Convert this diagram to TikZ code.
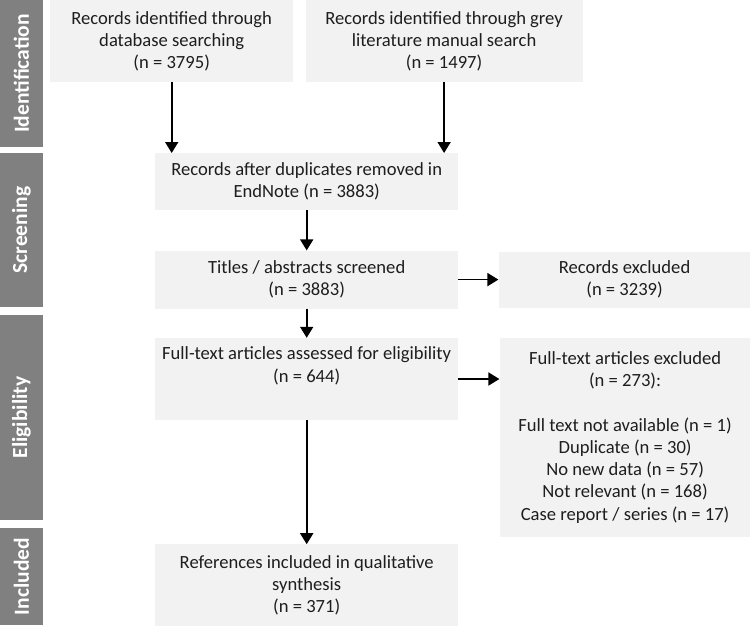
\documentclass[tikz,border=0pt]{standalone}
\usepackage{fontspec}
\setmainfont{Carlito}
\usepackage{tikz}
\usetikzlibrary{arrows.meta, positioning}
\definecolor{boxgray}{HTML}{F2F2F2}
\definecolor{bargray}{HTML}{808080}
\definecolor{txtgray}{HTML}{1E1E1E}

\begin{document}
\begin{tikzpicture}[
  x=1pt, y=1pt,
  node distance=40pt,
  every node/.style={font=\fontsize{18.6}{22.2}\selectfont, text=txtgray},
  % Styles
  box/.style={rectangle, fill=boxgray, align=center, inner sep=0pt, minimum width=303pt},
  phase/.style={rectangle, fill=bargray, rotate=90, minimum height=43pt, inner sep=0pt, text=white, font=\fontsize{21.5}{25}\selectfont\bfseries},
  arr/.style={-{Triangle[length=11pt, width=13pt]}, line width=1.7pt},
]
  \useasboundingbox (0,0) rectangle (750,-625);

  % ── PHASE BARS ────────────────────────────────────────────
  \node[phase, minimum width=147pt] (ident) at (21.5,-73.5) {Identification};
  \node[phase, minimum width=154pt] (screen) at (21.5,-230) {Screening};
  \node[phase, minimum width=205pt] (elig) at (21.5,-417.5) {Eligibility};
  \node[phase, minimum width=97pt] (incl) at (21.5,-576.5) {Included};

  % ── IDENTIFICATION ────────────────────────────────────────
  \node[box, minimum width=243pt, minimum height=82pt, anchor=north west] (dbsearch) at (50,0) {Records identified through\\database searching\\(n = 3795)};
  \node[box, minimum width=277pt, minimum height=82pt, right=12pt of dbsearch] (greylit) {Records identified through grey\\literature manual search\\(n = 1497)};

  % ── SCREENING ─────────────────────────────────────────────
  \node[box, minimum height=57pt, anchor=north west] (dedup) at (155,-153) {Records after duplicates removed in\\EndNote (n = 3883)};
  \node[box, minimum height=58pt, below=40pt of dedup] (titles) {Titles / abstracts screened\\(n = 3883)};
  \node[box, minimum width=252pt, minimum height=56pt, right=40pt of titles] (recexcl) {Records excluded\\(n = 3239)};

  % ── ELIGIBILITY ───────────────────────────────────────────
  \node[box, minimum height=82pt, below=29pt of titles] (fulltext) {Full-text articles assessed for eligibility\\(n = 644)\\\strut};
  \node[box, minimum width=251pt, minimum height=199pt, right=41pt of fulltext.north east, anchor=north west] (ftexcl) {Full-text articles excluded\\(n = 273):\\\strut\\Full text not available (n = 1)\\Duplicate (n = 30)\\No new data (n = 57)\\Not relevant (n = 168)\\Case report / series (n = 17)};

  % ── INCLUDED ──────────────────────────────────────────────
  \node[box, minimum height=82pt, below=124pt of fulltext] (included) {References included in qualitative\\synthesis\\(n = 371)};

  % ── ARROWS ────────────────────────────────────────────────
  \draw[arr] (dbsearch.south) -- (dbsearch.south |- dedup.north);
  \draw[arr] (greylit.south) -- (greylit.south |- dedup.north);
  \draw[arr] (dedup) -- (titles);
  \draw[arr] (titles) -- (fulltext);
  \draw[arr] (fulltext) -- (included);
  \draw[arr] (titles.east) -- (recexcl.west);
  \draw[arr] (fulltext.east) -- (fulltext.east -| ftexcl.west);

\end{tikzpicture}
\end{document}
